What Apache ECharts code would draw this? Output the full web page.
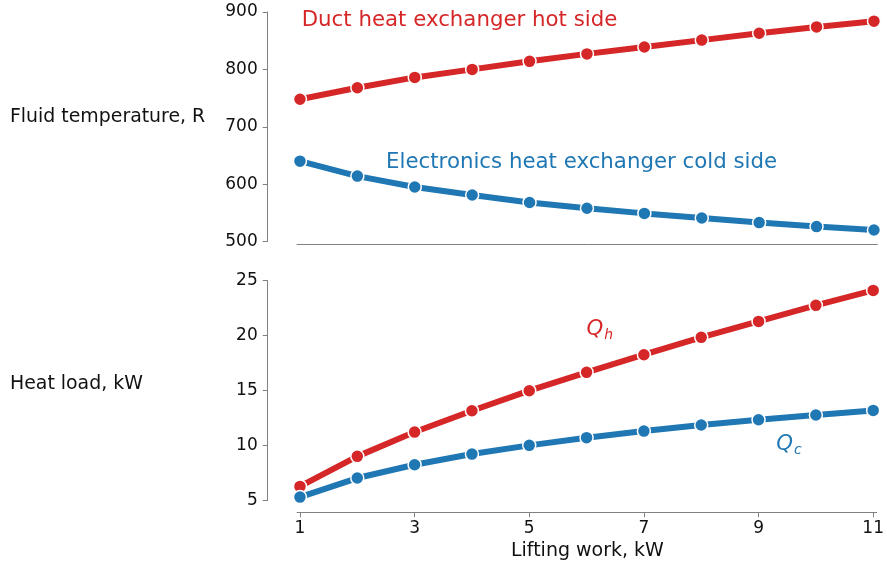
<!DOCTYPE html>
<html>
<head>
<meta charset="utf-8">
<script src="https://cdn.jsdelivr.net/npm/echarts@6/dist/echarts.min.js"></script>
<style>
html,body{margin:0;padding:0;background:#fff;}
#chart{width:887px;height:565px;}
</style>
</head>
<body>
<div id="chart"></div>
<script>
// ---- data ----
const liftingWork = [1, 2, 3, 4, 5, 6, 7, 8, 9, 10, 11];
const ductHotSideTemp = [748, 768, 786, 800, 814, 827, 839, 851, 863, 874, 884];
const electronicsColdSideTemp = [640, 614, 595, 581, 568, 558, 549, 541, 533, 526, 520];
const heatLoadHot = [6.3, 9.03, 11.24, 13.18, 15.0, 16.67, 18.27, 19.85, 21.3, 22.76, 24.12];
const heatLoadCold = [5.33, 7.06, 8.27, 9.24, 10.03, 10.73, 11.33, 11.88, 12.36, 12.79, 13.21];
const xTickValues = [1, 3, 5, 7, 9, 11];

// annotation anchors in data coordinates: [grid index, x, y]
const hotLabelAnchor = [0, 1.03, 884.5];
const coldLabelAnchor = [0, 2.5, 638.5];
const qhLabelAnchor = [1, 6.0, 20.6];
const qcLabelAnchor = [1, 9.31, 10.15];

const RED = '#d62728';
const BLUE = '#1f77b4';
const AXIS = '#808080';
const FONT = 'DejaVu Sans';

function pairs(xs, ys) { return xs.map((x, i) => [x, ys[i]]); }

function lineSeries(name, xIdx, yIdx, data, color) {
  return {
    name: name, type: 'line', xAxisIndex: xIdx, yAxisIndex: yIdx,
    data: data, symbol: 'circle', symbolSize: 13, showSymbol: true,
    lineStyle: { color: color, width: 6 },
    itemStyle: { color: color, borderColor: '#fff', borderWidth: 1.5 },
    z: 3
  };
}

const chart = echarts.init(document.getElementById('chart'), null, { renderer: 'canvas' });

const xCommon = {
  type: 'value', min: 0.95, max: 11.06,
  splitLine: { show: false },
  axisLine: { show: true, lineStyle: { color: AXIS, width: 1 } }
};

const option = {
  animation: false,
  backgroundColor: '#fff',
  textStyle: { fontFamily: FONT },
  grid: [
    { left: 297.1, top: 12, width: 580.3, height: 229.5 },
    { left: 297.1, top: 280.7, width: 580.3, height: 220 }
  ],
  xAxis: [
    Object.assign({}, xCommon, {
      gridIndex: 0, offset: 2.5,
      axisTick: { show: false }, axisLabel: { show: false }
    }),
    Object.assign({}, xCommon, {
      gridIndex: 1, offset: 11.6,
      axisTick: { show: true, length: 5, customValues: xTickValues, lineStyle: { color: AXIS } },
      axisLabel: { show: true, customValues: xTickValues, margin: 8, fontSize: 17, color: '#111', fontFamily: FONT }
    })
  ],
  yAxis: [
    {
      type: 'value', gridIndex: 0, min: 500, max: 900, interval: 100, offset: 29.4,
      splitLine: { show: false },
      axisLine: { show: true, lineStyle: { color: AXIS } },
      axisTick: { show: true, length: 5, lineStyle: { color: AXIS } },
      axisLabel: { margin: 10, fontSize: 17, color: '#111', fontFamily: FONT }
    },
    {
      type: 'value', gridIndex: 1, min: 5, max: 25, interval: 5, offset: 29.4,
      splitLine: { show: false },
      axisLine: { show: true, lineStyle: { color: AXIS } },
      axisTick: { show: true, length: 5, lineStyle: { color: AXIS } },
      axisLabel: { margin: 10, fontSize: 17, color: '#111', fontFamily: FONT }
    }
  ],
  series: [
    lineSeries('Duct heat exchanger hot side', 0, 0, pairs(liftingWork, ductHotSideTemp), RED),
    lineSeries('Electronics heat exchanger cold side', 0, 0, pairs(liftingWork, electronicsColdSideTemp), BLUE),
    lineSeries('Q_h', 1, 1, pairs(liftingWork, heatLoadHot), RED),
    lineSeries('Q_c', 1, 1, pairs(liftingWork, heatLoadCold), BLUE)
  ]
};
chart.setOption(option);

function px(anchor) {
  return chart.convertToPixel({ gridIndex: anchor[0] }, [anchor[1], anchor[2]]);
}
function annoText(anchor, text, color) {
  const p = px(anchor);
  return { type: 'text', x: p[0], y: p[1], z: 10,
    style: { text: text, fill: color, fontSize: 21.3, fontFamily: FONT, textVerticalAlign: 'middle' } };
}
function qText(anchor, sub, color) {
  const p = px(anchor);
  return { type: 'text', x: p[0], y: p[1], z: 10,
    style: { text: '{q|Q}{s|' + sub + '}', fill: color, fontFamily: FONT, textVerticalAlign: 'middle',
      rich: {
        q: { fontSize: 21.3, fontStyle: 'italic', fill: color, fontFamily: FONT },
        s: { fontSize: 14, fontStyle: 'italic', fill: color, fontFamily: FONT, padding: [12, 0, 0, 1] }
      } } };
}

chart.setOption({
  graphic: [
    { type: 'text', x: 10, y: 117, style: { text: 'Fluid temperature, R', fontSize: 18.9, fontFamily: FONT, fill: '#111', textVerticalAlign: 'middle' } },
    { type: 'text', x: 10, y: 384, style: { text: 'Heat load, kW', fontSize: 18.9, fontFamily: FONT, fill: '#111', textVerticalAlign: 'middle' } },
    { type: 'text', x: 587.4, y: 551, style: { text: 'Lifting work, kW', fontSize: 19, fontFamily: FONT, fill: '#111', textAlign: 'center', textVerticalAlign: 'middle' } },
    annoText(hotLabelAnchor, 'Duct heat exchanger hot side', RED),
    annoText(coldLabelAnchor, 'Electronics heat exchanger cold side', BLUE),
    qText(qhLabelAnchor, 'h', RED),
    qText(qcLabelAnchor, 'c', BLUE)
  ]
});
</script>
</body>
</html>
